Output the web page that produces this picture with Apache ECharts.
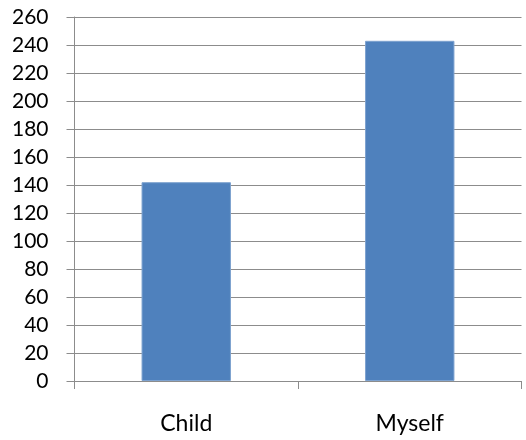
<!DOCTYPE html>
<html><head><meta charset="utf-8">
<script src="https://cdn.jsdelivr.net/npm/echarts@6/dist/echarts.min.js"></script>
<style>html,body{margin:0;padding:0;background:#fff}#c{width:526px;height:440px}</style>
</head><body><div id="c"></div>
<script>
const categories = ["Child", "Myself"];
const values = [142, 243];
const yMin = 0, yMax = 260, yStep = 20;

const chart = echarts.init(document.getElementById('c'), null, {renderer: 'canvas'});
const axisColor = '#8c8c8c';
chart.setOption({
  animation: false,
  grid: {left: 74.5, right: 4.5, top: 17, bottom: 59, containLabel: false},
  xAxis: {
    type: 'category', data: categories, boundaryGap: true,
    axisLine: {lineStyle: {color: axisColor, width: 1}},
    axisTick: {show: true, length: 8, alignWithLabel: false, lineStyle: {color: axisColor}},
    axisLabel: {color: '#000', fontFamily: 'Lato', fontSize: 23, margin: 31}
  },
  yAxis: {
    type: 'value', min: yMin, max: yMax, interval: yStep,
    axisLine: {show: true, lineStyle: {color: axisColor, width: 1}},
    axisTick: {show: true, length: 8, lineStyle: {color: axisColor}},
    splitLine: {show: true, lineStyle: {color: axisColor, width: 1}},
    axisLabel: {color: '#000', fontFamily: 'Lato', fontSize: 21, margin: 26}
  },
  series: [{
    type: 'bar', data: values, barCategoryGap: '60%',
    itemStyle: {color: '#4F81BD', borderColor: '#7da2cf', borderWidth: 1}
  }]
});
</script></body></html>
